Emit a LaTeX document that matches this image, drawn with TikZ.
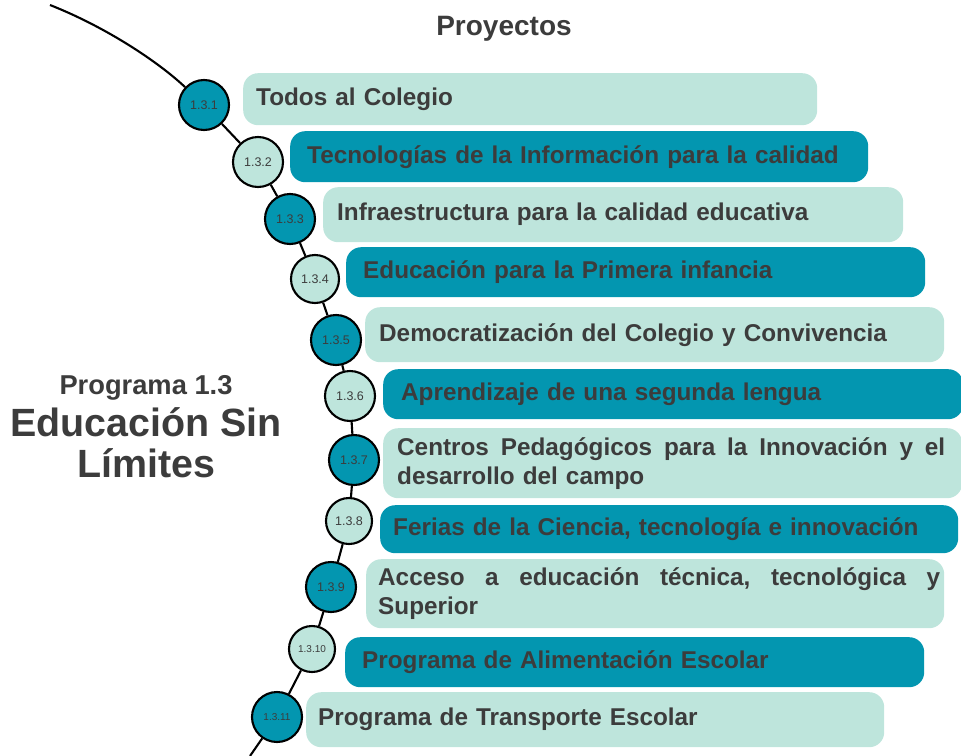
\documentclass[tikz,border=0pt]{standalone}
\usepackage{fontspec}
\setmainfont{Liberation Sans}
\definecolor{tealdk}{HTML}{0396B0}
\definecolor{mint}{HTML}{BEE5DC}
\definecolor{ink}{HTML}{3C3C3C}
\begin{document}
\begin{tikzpicture}[x=1pt,y=-1pt,
  pbox/.style={rounded corners=15pt, anchor=north west, align=left, inner ysep=0pt,
    font=\bfseries\fontsize{24.3}{29}\selectfont, text=ink},
  lbox/.style={pbox, fill=mint},
  dbox/.style={pbox, fill=tealdk},
  num/.style={circle, draw=black, line width=2.1pt, inner sep=0pt, minimum size=50pt,
    font=\fontsize{12.5}{14}\selectfont, text=ink},
  dnum/.style={num, fill=tealdk},
  lnum/.style={num, fill=mint},
  link/.style={draw=black, line width=2.1pt},
  title/.style={text=ink, font=\bfseries\fontsize{28}{32}\selectfont}]
\useasboundingbox (0,0) rectangle (961,755);

% title
\node[title] (proy) at (504,29) {Proyectos};
\node[text=ink, font=\bfseries\fontsize{27.3}{30}\selectfont] (prog) at (146,388) {Programa 1.3};
\node[text=ink, font=\bfseries\fontsize{39.4}{44}\selectfont] (edu) at (146,422) {Educación Sin};
\node[text=ink, font=\bfseries\fontsize{39.4}{44}\selectfont] (lim) at (146,463) {Límites};

% project boxes
\node[lbox, minimum width=574pt, minimum height=52pt, inner xsep=13pt, text width=548pt] (p1) at (243,73) {Todos al Colegio};
\node[dbox, minimum width=578pt, minimum height=51pt, inner xsep=17pt, text width=544pt] (p2) at (290,131) {Tecnologías de la Información para la calidad};
\node[lbox, minimum width=580pt, minimum height=55pt, inner xsep=14pt, text width=552pt] (p3) at (323,187) {Infraestructura para la calidad educativa};
\node[dbox, minimum width=579pt, minimum height=50pt, inner xsep=17pt, text width=545pt] (p4) at (346,247) {Educación para la Primera infancia};
\node[lbox, minimum width=579pt, minimum height=55pt, inner xsep=14pt, text width=551pt] (p5) at (365,307) {Democratización del Colegio y Convivencia};
\node[dbox, minimum width=580pt, minimum height=50pt, inner xsep=18pt, text width=544pt] (p6) at (383,369) {Aprendizaje de una segunda lengua};
\node[lbox, minimum width=579pt, minimum height=70pt, inner xsep=14pt, text width=551pt] (p7) at (383,428) {\hbox to 548pt{Centros\hfill Pedagógicos\hfill para\hfill la\hfill Innovación\hfill y\hfill el}\\desarrollo del campo};
\node[dbox, minimum width=578pt, minimum height=48pt, inner xsep=13pt, text width=552pt] (p8) at (380,505) {Ferias de la Ciencia, tecnología e innovación};
\node[lbox, minimum width=578pt, minimum height=69pt, inner xsep=12pt, text width=554pt] (p9) at (366,559) {\hbox to 562pt{Acceso\hfill a\hfill educación\hfill técnica,\hfill tecnológica\hfill y}\\Superior};
\node[dbox, minimum width=579pt, minimum height=50pt, inner xsep=17pt, text width=545pt] (p10) at (345,637) {Programa de Alimentación Escolar};
\node[lbox, minimum width=578pt, minimum height=55pt, inner xsep=12pt, text width=554pt] (p11) at (306,692) {Programa de Transporte Escolar};

% circles
\node[dnum] (c1) at (204,105) {1.3.1};
\node[lnum] (c2) at (258,162) {1.3.2};
\node[dnum] (c3) at (290,219) {1.3.3};
\node[lnum, minimum size=48pt] (c4) at (315,279) {1.3.4};
\node[dnum] (c5) at (336,340) {1.3.5};
\node[lnum] (c6) at (350,396) {1.3.6};
\node[dnum] (c7) at (354,460) {1.3.7};
\node[lnum, minimum size=46pt] (c8) at (349,521) {1.3.8};
\node[dnum] (c9) at (331,587) {1.3.9};
\node[lnum, minimum size=46pt, font=\fontsize{10}{12}\selectfont] (c10) at (312,649) {1.3.10};
\node[dnum, font=\fontsize{10}{12}\selectfont] (c11) at (277,717) {1.3.11};

% spine
\coordinate (top) at (50,5);
\coordinate (bot) at (250,756);
\draw[link] (top) .. controls (107,27.5) and (159,62.5) .. (c1);
\draw[link] (c1) -- (c2);
\draw[link] (c2) -- (c3);
\draw[link] (c3) -- (c4);
\draw[link] (c4) -- (c5);
\draw[link] (c5) -- (c6);
\draw[link] (c6) -- (c7);
\draw[link] (c7) -- (c8);
\draw[link] (c8) -- (c9);
\draw[link] (c9) -- (c10);
\draw[link] (c10) -- (c11);
\draw[link] (c11) -- (bot);
\end{tikzpicture}
\end{document}
